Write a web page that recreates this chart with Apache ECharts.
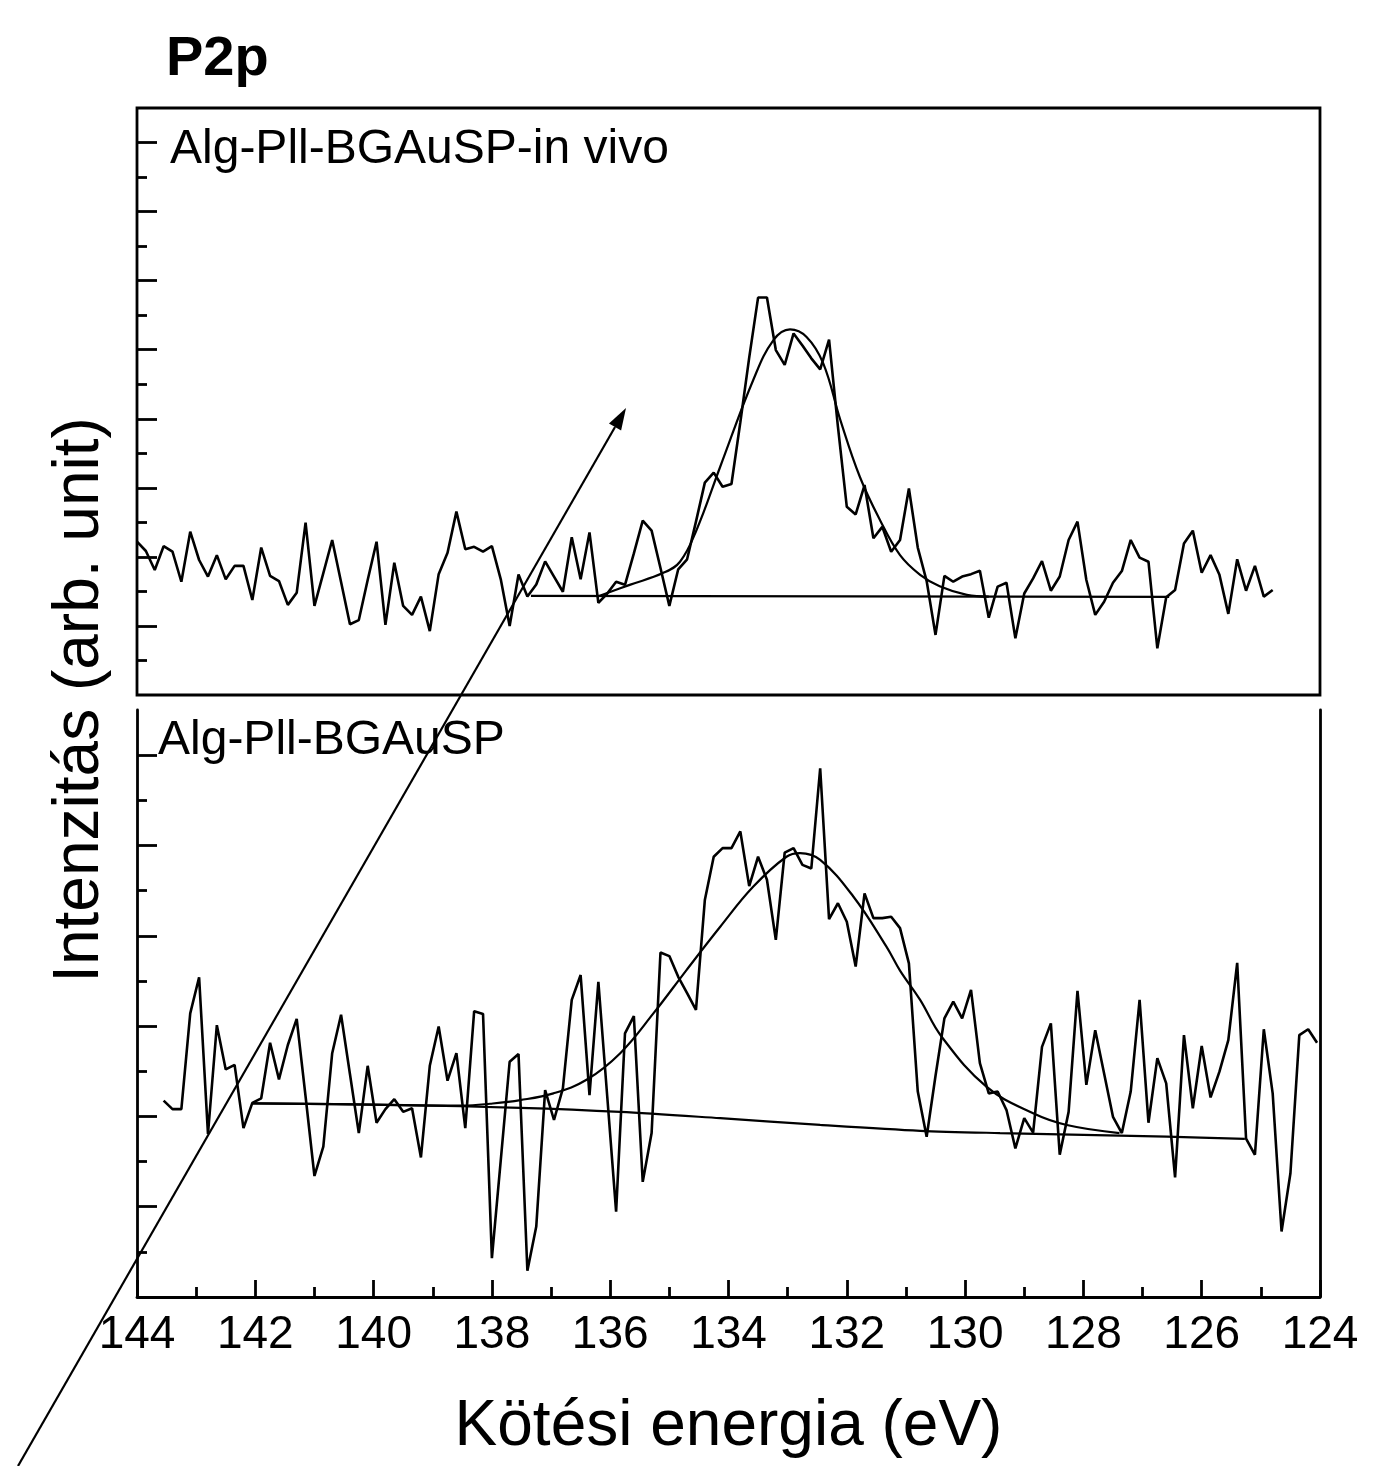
<!DOCTYPE html>
<html>
<head>
<meta charset="utf-8">
<script src="https://cdn.jsdelivr.net/npm/echarts@6/dist/echarts.min.js"></script>
<style>
  html, body { margin: 0; padding: 0; background: #fff; }
  #chart { width: 1399px; height: 1466px; }
</style>
</head>
<body>
<div id="chart"></div>
<script>
const chart = echarts.init(document.getElementById('chart'));

// energy grid of the measured spectra (eV)
const topStart = 144.0;
const bottomStart = 143.55;
const step = 0.15;

// Alg-Pll-BGAuSP-in vivo, measured counts (arb.)
const topCounts = [
  4.44, 4.17, 3.62, 4.31, 4.15, 3.28, 4.73, 3.91, 3.43, 4.05,
  3.35, 3.74, 3.74, 2.75, 4.27, 3.45, 3.30, 2.61, 2.96, 4.99,
  2.58, 3.53, 4.49, 3.27, 2.05, 2.17, 3.33, 4.44, 2.03, 3.83,
  2.58, 2.32, 2.85, 1.85, 3.50, 4.12, 5.31, 4.22, 4.29, 4.15,
  4.31, 3.35, 2.00, 3.49, 2.85, 3.20, 3.87, 3.43, 2.99, 4.57,
  3.35, 4.71, 2.67, 2.94, 3.28, 3.19, 4.10, 5.05, 4.76, 3.68,
  2.58, 3.64, 3.93, 5.02, 6.15, 6.44, 6.03, 6.11, 7.90, 9.77,
  11.51, 11.51, 9.99, 9.56, 10.47, 10.12, 9.75, 9.43, 10.29, 7.77,
  5.45, 5.23, 6.08, 4.54, 4.87, 4.15, 4.49, 5.98, 4.27, 3.30,
  1.74, 3.45, 3.28, 3.43, 3.50, 3.60, 2.24, 3.14, 3.25, 1.64,
  2.94, 3.38, 3.88, 3.02, 3.43, 4.49, 5.02, 3.33, 2.32, 2.70,
  3.25, 3.59, 4.49, 3.98, 3.86, 1.35, 2.83, 3.04, 4.39, 4.76,
  3.54, 4.05, 3.48, 2.35, 3.93, 3.02, 3.74, 2.85, 3.04
];

// Alg-Pll-BGAuSP, measured counts (arb.)
const bottomCounts = [
  4.35, 4.16, 4.16, 6.28, 7.08, 3.61, 6.02, 5.04, 5.14, 3.74,
  4.30, 4.40, 5.63, 4.82, 5.58, 6.16, 4.44, 2.68, 3.33, 5.40,
  6.25, 4.94, 3.63, 5.12, 3.86, 4.16, 4.38, 4.10, 4.18, 3.09,
  5.12, 5.99, 4.79, 5.40, 3.74, 6.33, 6.27, 0.86, 3.03, 5.21,
  5.38, 0.58, 1.56, 4.58, 3.92, 4.62, 6.58, 7.13, 4.47, 6.98,
  4.44, 1.89, 5.84, 6.22, 2.55, 3.63, 7.63, 7.55, 7.09, 6.73,
  6.36, 8.79, 9.75, 9.94, 9.94, 10.31, 9.10, 9.75, 9.24, 7.91,
  9.84, 9.94, 9.57, 9.49, 11.71, 8.37, 8.72, 8.31, 7.32, 8.94,
  8.39, 8.39, 8.42, 8.17, 7.39, 4.55, 3.55, 4.90, 6.17, 6.54,
  6.17, 6.80, 5.18, 4.51, 4.55, 4.14, 3.29, 3.96, 3.64, 5.54,
  6.06, 3.15, 4.10, 6.78, 4.70, 5.91, 4.95, 3.99, 3.63, 4.55,
  6.58, 3.86, 5.29, 4.73, 2.65, 5.80, 4.18, 5.56, 4.42, 4.99,
  5.69, 7.40, 3.51, 3.15, 5.93, 4.51, 1.45, 2.74, 5.80, 5.93,
  5.63
];

// fitted peak envelopes and backgrounds
const topFitEnergy = [136.20, 135.67, 135.11, 134.82, 134.54, 134.14, 133.58, 133.24, 132.96, 132.68,
  132.40, 132.11, 131.78, 131.44, 131.10, 130.76, 130.43, 129.97, 129.60];
const topFitCounts = [2.86, 3.19, 3.53, 3.86, 4.78, 6.61, 9.13, 10.28, 10.59, 10.37,
  9.61, 7.97, 6.32, 5.07, 4.05, 3.48, 3.15, 2.90, 2.85];
const topBaseEnergy = [137.34, 126.55];
const topBaseCounts = [2.87, 2.84];

const bottomFitEnergy = [142.05, 140.00, 138.49, 138.03, 137.52, 136.96, 136.40, 135.83, 135.27, 134.71,
  134.14, 133.58, 133.02, 132.79, 132.45, 131.89, 131.33, 131.10, 130.76, 130.40,
  129.64, 128.85, 128.28, 127.39];
const bottomFitCounts = [4.29, 4.26, 4.24, 4.28, 4.36, 4.51, 4.81, 5.40, 6.28, 7.24,
  8.20, 9.09, 9.75, 9.83, 9.68, 8.87, 7.76, 7.23, 6.58, 5.77,
  4.66, 4.07, 3.81, 3.63];
const bottomBaseEnergy = [142.05, 139.55, 137.52, 135.83, 134.14, 132.45, 130.76, 129.41, 126.59, 125.27];
const bottomBaseCounts = [4.29, 4.25, 4.19, 4.10, 3.96, 3.81, 3.68, 3.63, 3.55, 3.50];

// axis ticks
const xTickLabels = [124, 126, 128, 130, 132, 134, 136, 138, 140, 142, 144];
const topMajorTicks = [2, 4, 6, 8, 10, 12, 14, 16];
const topMinorTicks = [1, 3, 5, 7, 9, 11, 13, 15];
const bottomMajorTicks = [2, 4, 6, 8, 10, 12];
const bottomMinorTicks = [1, 3, 5, 7, 9, 11];

const topData = topCounts.map((v, i) => [+(topStart - i * step).toFixed(2), v]);
const bottomData = bottomCounts.map((v, i) => [+(bottomStart - i * step).toFixed(2), v]);
const pairs = (xs, ys) => xs.map((x, i) => [x, ys[i]]);

const FONT = '"Liberation Sans", Arial, sans-serif';
const black = '#000';
const axisW = 2.8;

function yAxisFor(grid, max, ticks, len, showLine, position) {
  return {
    gridIndex: grid,
    type: 'value',
    min: 0,
    max: max,
    position: position || 'left',
    axisLine: { show: showLine, onZero: false, lineStyle: { color: black, width: axisW } },
    axisTick: {
      show: ticks.length > 0,
      inside: true,
      length: len,
      customValues: ticks,
      lineStyle: { color: black, width: axisW }
    },
    axisLabel: { show: false },
    splitLine: { show: false }
  };
}

const lineSeries = (x, y, data, width, smooth) => ({
  type: 'line',
  xAxisIndex: x,
  yAxisIndex: y,
  data: data,
  symbol: 'none',
  smooth: smooth || false,
  lineStyle: { color: black, width: width },
  z: 5
});

// arrow annotation (pixel geometry of the drawn pointer)
const arrowTail = [18, 1466];
const arrowTip = [626, 408];
const dx = arrowTip[0] - arrowTail[0], dy = arrowTip[1] - arrowTail[1];
const len = Math.sqrt(dx * dx + dy * dy);
const ux = dx / len, uy = dy / len;
const head = 22, half = 7;
const bx = arrowTip[0] - head * ux, by = arrowTip[1] - head * uy;

const option = {
  backgroundColor: '#fff',
  animation: false,
  grid: [
    { left: 137, top: 108, width: 1183, height: 587, show: true, borderColor: black, borderWidth: axisW, backgroundColor: 'transparent' },
    { left: 137, top: 710, width: 1183, height: 587 }
  ],
  xAxis: [
    {
      gridIndex: 0, type: 'value', min: 124, max: 144, inverse: true,
      axisLine: { show: false }, axisTick: { show: false }, axisLabel: { show: false }, splitLine: { show: false }
    },
    {
      gridIndex: 1, type: 'value', min: 124, max: 144, interval: 2, inverse: true,
      axisLine: { show: true, onZero: false, lineStyle: { color: black, width: axisW } },
      axisTick: { show: true, inside: true, length: 17, lineStyle: { color: black, width: axisW } },
      minorTick: { show: true, splitNumber: 2, length: 10, lineStyle: { color: black, width: axisW } },
      axisLabel: {
        color: black, fontSize: 46, fontFamily: FONT, margin: 15,
        customValues: xTickLabels,
        formatter: v => String(v)
      },
      splitLine: { show: false },
      name: 'Kötési energia (eV)',
      nameLocation: 'middle',
      nameGap: 98,
      nameTextStyle: { color: black, fontSize: 64, fontFamily: FONT }
    }
  ],
  yAxis: [
    yAxisFor(0, 17, topMajorTicks, 20, false),
    yAxisFor(0, 17, topMinorTicks, 10, false),
    yAxisFor(1, 13, bottomMajorTicks, 20, true),
    yAxisFor(1, 13, bottomMinorTicks, 10, false),
    yAxisFor(1, 13, [], 0, true, 'right')
  ],
  series: [
    lineSeries(0, 0, topData, 2.6),
    lineSeries(0, 0, pairs(topFitEnergy, topFitCounts), 2.2, 0.4),
    lineSeries(0, 0, pairs(topBaseEnergy, topBaseCounts), 2.2),
    lineSeries(1, 2, bottomData, 2.6),
    lineSeries(1, 2, pairs(bottomFitEnergy, bottomFitCounts), 2.2, 0.4),
    lineSeries(1, 2, pairs(bottomBaseEnergy, bottomBaseCounts), 2.2, 0.3)
  ],
  graphic: [
    {
      type: 'text', x: 166, y: 60, z: 50,
      style: { text: 'P2p', font: 'bold 56px ' + FONT, fill: black, verticalAlign: 'middle' }
    },
    {
      type: 'text', x: 170, y: 150, z: 50,
      style: { text: 'Alg-Pll-BGAuSP-in vivo', font: '48px ' + FONT, fill: black, verticalAlign: 'middle' }
    },
    {
      type: 'text', x: 158, y: 741, z: 50,
      style: { text: 'Alg-Pll-BGAuSP', font: '48px ' + FONT, fill: black, verticalAlign: 'middle' }
    },
    {
      type: 'text', x: 80, y: 700, rotation: Math.PI / 2, z: 50,
      style: { text: 'Intenzitás (arb. unit)', font: '64px ' + FONT, fill: black, align: 'center', verticalAlign: 'middle' }
    },
    {
      type: 'line', z: 60,
      shape: { x1: arrowTail[0], y1: arrowTail[1], x2: bx, y2: by },
      style: { stroke: black, lineWidth: 2.2 }
    },
    {
      type: 'polygon', z: 60,
      shape: {
        points: [
          arrowTip,
          [bx + half * uy, by - half * ux],
          [bx - half * uy, by + half * ux]
        ]
      },
      style: { fill: black }
    }
  ]
};

chart.setOption(option);
</script>
</body>
</html>
